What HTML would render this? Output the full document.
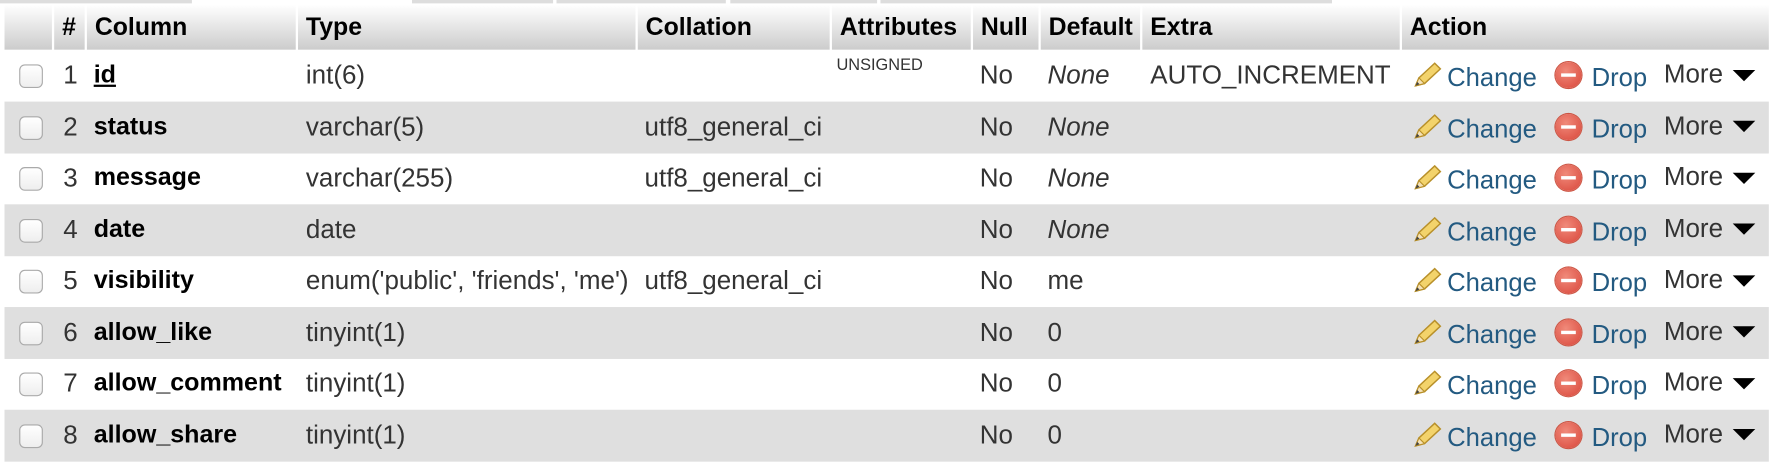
<!DOCTYPE html>
<html><head><meta charset="utf-8"><style>
body{margin:0;width:1770px;height:468px;overflow:hidden;background:#fff;font-family:"Liberation Sans",Arial,sans-serif;}
#w{position:absolute;left:0;top:0;width:1568px;height:415px;transform:scale(1.1288);transform-origin:0 0;}
.tab{position:absolute;top:0;height:3px;background:#ddd;}
.h{position:absolute;top:4px;height:40px;background:linear-gradient(#fff,#ccc);font-weight:bold;font-size:22px;color:#000;line-height:40px;box-sizing:border-box;padding-left:7px;}
.r{position:absolute;left:4px;width:1563px;height:46px;}
.g{background:#dfdfdf;}
.t{position:absolute;font-size:23px;color:#333;line-height:44px;top:0;white-space:nowrap;}
.b{font-weight:bold;color:#000;font-size:22.2px;}
.i{font-style:italic;}
.cb{position:absolute;left:13px;top:13px;width:19px;height:19px;border:1px solid #aaa;border-radius:5px;background:linear-gradient(#fff,#eee);}
.l{color:#235a81;font-size:22.7px;}
.dr{position:absolute;left:1374px;top:11px;width:23px;height:23px;border-radius:50%;background:radial-gradient(circle at 40% 35%,#f08a7a,#d9463a);box-shadow:0 0 0 1px #c54;}
.dr:after{content:"";position:absolute;left:5px;top:10px;width:13px;height:3px;background:#fff;}
.tri{display:inline-block;vertical-align:middle;margin-left:9px;width:0;height:0;border-left:10px solid transparent;border-right:10px solid transparent;border-top:10px solid #000;}
.pen{position:absolute;left:1246px;top:10px;}
</style></head><body><div id="w">
<div class="tab" style="left:0;width:170px"></div><div class="tab" style="left:365px;width:125px"></div><div class="tab" style="left:493px;width:150px"></div><div class="tab" style="left:647px;width:130px"></div><div class="tab" style="left:780px;width:400px"></div>
<div class="h" style="left:4px;width:42px"></div>
<div class="h" style="left:48px;width:27px">#</div>
<div class="h" style="left:77px;width:185px">Column</div>
<div class="h" style="left:264px;width:299px">Type</div>
<div class="h" style="left:565px;width:170px">Collation</div>
<div class="h" style="left:737px;width:123px">Attributes</div>
<div class="h" style="left:862px;width:58px">Null</div>
<div class="h" style="left:922px;width:88px">Default</div>
<div class="h" style="left:1012px;width:228px">Extra</div>
<div class="h" style="left:1242px;width:325px">Action</div>
<div id="rows"></div>
</div>
<script>
var d=[["1","id","int(6)","","UNSIGNED","None",1,"AUTO_INCREMENT"],["2","status","varchar(5)","utf8_general_ci","","None",1,""],["3","message","varchar(255)","utf8_general_ci","","None",1,""],["4","date","date","","","None",1,""],["5","visibility","enum('public', 'friends', 'me')","utf8_general_ci","","me",0,""],["6","allow_like","tinyint(1)","","","0",0,""],["7","allow_comment","tinyint(1)","","","0",0,""],["8","allow_share","tinyint(1)","","","0",0,""]];
var h="";
var pen='<svg class="pen" width="28" height="26" viewBox="0 0 28 26"><path d="M4 22 L7 15 L21 2 L26 7 L12 20 Z" fill="#f3d36b" stroke="#b8902a" stroke-width="1.3"/><path d="M4 22 L7 15 L12 20 Z" fill="#f5e2b8" stroke="#b8902a" stroke-width="1"/><path d="M4 22 L5.5 18.5 L7.5 20.5Z" fill="#444"/></svg>';
d.forEach(function(r,k){var top=44+k*45.5;
h+='<div class="r'+(k%2?' g':'')+'" style="top:'+top+'px"><div class="cb"></div>'+
'<div class="t" style="left:52px">'+r[0]+'</div>'+
'<div class="t b" style="left:79px'+(k==0?';text-decoration:underline':'')+'">'+r[1]+'</div>'+
'<div class="t" style="left:267px">'+r[2]+'</div>'+
'<div class="t" style="left:567px">'+r[3]+'</div>'+
(r[4]?'<div class="t" style="left:737px;font-size:14.5px;line-height:14px;top:7px">'+r[4]+'</div>':'')+
'<div class="t" style="left:864px">No</div>'+
'<div class="t'+(r[6]?' i':'')+'" style="left:924px">'+r[5]+'</div>'+
'<div class="t" style="left:1015px">'+r[7]+'</div>'+
pen+'<div class="t l" style="left:1278px;top:2px">Change</div><div class="dr"></div><div class="t l" style="left:1406px;top:2px">Drop</div><div class="t" style="left:1470px;top:-1px">More<span class="tri"></span></div></div>';});
document.getElementById("rows").outerHTML=h;
</script>
</body></html>
